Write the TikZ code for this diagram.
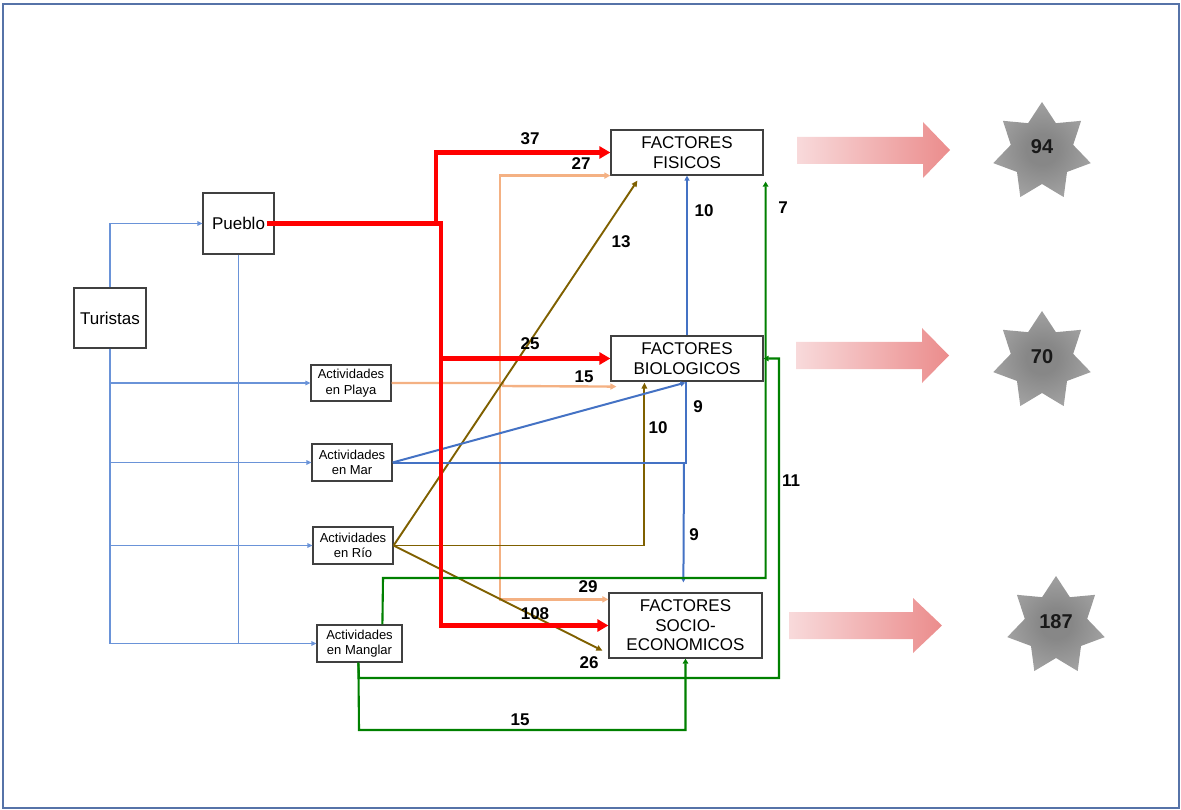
\documentclass[tikz,border=0pt]{standalone}
\usepackage{fontspec}
\setmainfont{Liberation Sans}
\usetikzlibrary{arrows.meta,calc}
\definecolor{bred}{HTML}{FF0000}
\definecolor{borange}{HTML}{F4B183}
\definecolor{bbrown}{HTML}{7F6000}
\definecolor{bblue}{HTML}{4472C4}
\definecolor{lblue}{HTML}{6A93D8}
\definecolor{bgreen}{HTML}{008000}
\definecolor{boxline}{HTML}{404040}
\definecolor{framec}{HTML}{5673A8}
\definecolor{arrL}{HTML}{F8DADB}
\definecolor{arrR}{HTML}{EB8C8C}
\definecolor{starIn}{HTML}{878787}
\definecolor{starOut}{HTML}{C6C6C6}
\pgfdeclareradialshading{starshade}{\pgfpoint{0bp}{0bp}}{color(0bp)=(starIn); color(8bp)=(starIn); color(50bp)=(starOut)}
\begin{document}
\begin{tikzpicture}[x=1pt,y=-1pt,
  box/.style={draw=boxline, line width=1.2pt, fill=white, align=center, inner sep=1pt},
  bigtxt/.style={font=\fontsize{17}{19.5}\selectfont},
  smalltxt/.style={font=\fontsize{13}{15.5}\selectfont},
  num/.style={font=\fontsize{17}{19}\selectfont\bfseries, inner sep=0pt},
  starnum/.style={font=\fontsize{20}{22}\selectfont\bfseries, inner sep=0pt, text=black!90},
  redl/.style={draw=bred, line width=4.5pt, -{Triangle[length=11pt,width=12pt]}},
  orl/.style={draw=borange, line width=2.4pt, -{Triangle[length=6pt,width=6pt]}},
  brl/.style={draw=bbrown, line width=1.9pt, -{Triangle[length=6pt,width=5.5pt]}},
  bll/.style={draw=bblue, line width=2pt, -{Triangle[length=5pt,width=5pt]}},
  grl/.style={draw=bgreen, line width=2.1pt, -{Triangle[length=5pt,width=5.5pt]}},
  tl/.style={draw=lblue, line width=1.3pt, -{Triangle[length=5pt,width=4.5pt]}},
]
\useasboundingbox (0,0) rectangle (1181,810);
\draw[framec, line width=1.5pt] (3,4) rectangle (1179,808);

% nodes
\node[box, bigtxt, minimum width=72pt, minimum height=60pt] (Turistas) at (110,318) {Turistas};
\node[box, bigtxt, minimum width=71pt, minimum height=61pt] (Pueblo) at (238.5,223.5) {Pueblo};
\node[box, smalltxt, minimum width=80pt, minimum height=36pt] (Playa) at (351,383) {Actividades\\en Playa};
\node[box, smalltxt, minimum width=80pt, minimum height=37pt] (Mar) at (352,462.5) {Actividades\\en Mar};
\node[box, smalltxt, minimum width=80pt, minimum height=37pt] (Rio) at (353,545.5) {Actividades\\en Río};
\node[box, smalltxt, minimum width=85pt, minimum height=37pt] (Manglar) at (359.5,643.5) {Actividades\\en Manglar};
\node[box, bigtxt, minimum width=152pt, minimum height=45pt] (FF) at (687,152.5) {FACTORES\\FISICOS};
\node[box, bigtxt, minimum width=152pt, minimum height=45pt] (FB) at (687,358.5) {FACTORES\\BIOLOGICOS};
\node[box, bigtxt, minimum width=153pt, minimum height=65pt] (FS) at (685.5,625.5) {FACTORES\\SOCIO-\\ECONOMICOS};

% Turistas connectors
\draw[tl] (Turistas.north) |- (Pueblo.west);
\draw[tl] (Turistas.south) |- (Manglar.west);
\draw[tl] (Turistas.south |- Playa.west) -- (Playa.west);
\draw[tl] (Turistas.south |- Mar.west) -- (Mar.west);
\draw[tl] (Turistas.south |- Rio.west) -- (Rio.west);
\draw[draw=lblue, line width=1.3pt] (Pueblo.south) -- (Pueblo.south |- Manglar.west);

% orange
\draw[orl] (Playa.east) -- (503,383) -- (503,386) -- ($(FB.south west)+(6,5)$);
\draw[orl] (500,383) |- (FF.south west);
\draw[orl] (500,383) |- ($(FS.north west)+(0,7)$);

% brown
\draw[brl] (Rio.east) -- ($(FF.south west)+(27,5)$);
\draw[brl] (Rio.east) -| ($(FB.south west)+(34,1)$);
\draw[brl] (Rio.east) -- ($(FS.south west)+(-6,-8)$);

% blue from Mar
\draw[bll] (Mar.east) -- ($(FB.south west)+(75,1)$);
\draw[draw=bblue, line width=2pt] (Mar.east) -| ($(FB.south west)+(76,0)$);
\draw[bll] (684,462.5) -- ($(FS.north west)+(75,-10)$);
\draw[bll] (FB.north) -- (FF.south);

% green
\draw[grl] ($(Manglar.north west)+(66,0)$) -- (383,578) -| ($(FF.south east)+(2,6)$);
\draw[grl] ($(Manglar.south west)+(42,0)$) -- (359,678) -| (779,358.5) -- (FB.east);
\draw[grl] ($(Manglar.south west)+(42,0)$) -- (359,730) -| (FS.south);

% red
\draw[redl] ([xshift=-8pt]Pueblo.east) -- (441,223.5) |- (FS.west);
\draw[redl] (436,223.5) |- (FF.west);
\draw[redl] (441,358.5) -- (FB.west);

% labels
\node[num] (l37) at (530,139) {37};
\node[num] (l27) at (581,164) {27};
\node[num] (l13) at (621,242) {13};
\node[num] (l10a) at (704,211) {10};
\node[num] (l7) at (783,208) {7};
\node[num] (l25) at (530,344) {25};
\node[num] (l15a) at (584,377) {15};
\node[num] (l9a) at (698,407) {9};
\node[num] (l10b) at (658,428) {10};
\node[num] (l11) at (791,481) {11};
\node[num] (l9b) at (694,535) {9};
\node[num] (l29) at (588,587) {29};
\node[num] (l108) at (535,614) {108};
\node[num] (l26) at (589,663) {26};
\node[num] (l15b) at (520,720) {15};

% gradient arrows
\shade[left color=arrL, right color=arrR] (797,137) -- (923,137) -- (923,122) -- (950,150) -- (923,178) -- (923,164) -- (797,164) -- cycle;
\shade[left color=arrL, right color=arrR] (796,342) -- (922,342) -- (922,328) -- (949,355.5) -- (922,383) -- (922,369) -- (796,369) -- cycle;
\shade[left color=arrL, right color=arrR] (789,612) -- (913,612) -- (913,598) -- (942,625.5) -- (913,653) -- (913,639) -- (789,639) -- cycle;

% stars
\coordinate (S1) at (1042,152);
\coordinate (S2) at (1042,361);
\coordinate (S3) at (1056,626);
\foreach \c in {S1,S2,S3}{
  \shade[shading=starshade] ($(\c)+(-90:50)$)
    \foreach \i in {1,...,13}{ -- ($(\c)+({-90+\i*180/7}:{ifthenelse(mod(\i,2)==1,32,50)})$) } -- cycle;
}
\node[starnum] (S1t) at (1042,147) {94};
\node[starnum] (S2t) at (1042,357) {70};
\node[starnum] (S3t) at (1056,622) {187};
\end{tikzpicture}
\end{document}
